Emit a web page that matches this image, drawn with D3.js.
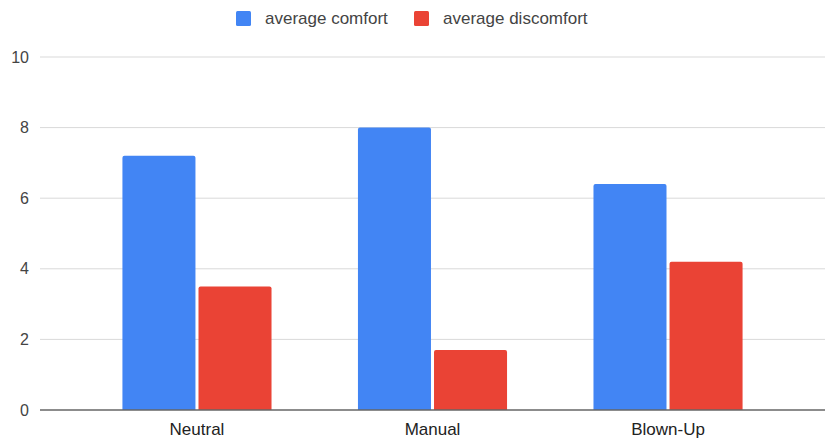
<!DOCTYPE html>
<html>
<head>
<meta charset="utf-8">
<script src="https://cdn.jsdelivr.net/npm/d3@7"></script>
<style>
  html, body { margin: 0; padding: 0; background: #fff; }
  svg { display: block; font-family: "Liberation Sans", Arial, sans-serif; }
</style>
</head>
<body>
<svg id="chart" width="833" height="439"></svg>
<script>
const categories = ["Neutral", "Manual", "Blown-Up"];
const seriesNames = ["average comfort", "average discomfort"];
const comfort = [7.2, 8.0, 6.4];
const discomfort = [3.5, 1.7, 4.2];
const yTicks = [0, 2, 4, 6, 8, 10];
const colors = ["#4285f4", "#ea4335"];

const series = [comfort, discomfort];
const rows = categories.map((c, i) => ({ cat: c, vals: series.map((s, k) => ({ key: seriesNames[k], v: s[i], k })) }));

const svg = d3.select("#chart");
const W = 833, H = 439;
const margin = { left: 40, right: 8, top: 57, bottom: 29 };
const plotR = W - margin.right, plotB = H - margin.bottom;

const x0 = d3.scaleBand().domain(categories).range([margin.left, plotR])
  .paddingInner(0.367).paddingOuter(0.35);
const x1 = d3.scaleBand().domain(seriesNames).range([0, x0.bandwidth()]).paddingInner(0.04);
const y = d3.scaleLinear().domain([0, 10]).range([plotB, margin.top]);

// gridlines
svg.append("g").selectAll("line").data(yTicks.filter(t => t !== 0)).join("line")
  .attr("x1", margin.left).attr("x2", plotR)
  .attr("y1", d => y(d)).attr("y2", d => y(d))
  .attr("stroke", "#d9d9d9").attr("stroke-width", 1);

// y-axis labels
const yAxis = d3.axisLeft(y).tickValues(yTicks).tickSize(0).tickPadding(11).tickFormat(d3.format("d"));
const ya = svg.append("g").attr("transform", `translate(${margin.left},0)`).call(yAxis);
ya.select(".domain").remove();
ya.selectAll("text").attr("font-size", 16).attr("fill", "#444").attr("font-family", "Liberation Sans, Arial, sans-serif");

// bars with slightly rounded tops
function barPath(xp, w, yTop, yBot, r) {
  r = Math.min(r, (yBot - yTop));
  return `M${xp},${yBot}V${yTop + r}Q${xp},${yTop} ${xp + r},${yTop}H${xp + w - r}Q${xp + w},${yTop} ${xp + w},${yTop + r}V${yBot}Z`;
}
svg.append("g").selectAll("g").data(rows).join("g")
  .attr("transform", d => `translate(${x0(d.cat)},0)`)
  .selectAll("path").data(d => d.vals).join("path")
  .attr("d", d => barPath(x1(d.key), x1.bandwidth(), y(d.v), y(0), 2))
  .attr("fill", d => colors[d.k]);

// baseline
svg.append("line").attr("x1", margin.left).attr("x2", plotR)
  .attr("y1", y(0)).attr("y2", y(0)).attr("stroke", "#666").attr("stroke-width", 1.6);

// x-axis labels
const xAxis = d3.axisBottom(x0).tickSize(0).tickPadding(13);
const xa = svg.append("g").attr("transform", `translate(0,${y(0)})`).call(xAxis);
xa.select(".domain").remove();
xa.selectAll("text").attr("font-size", 17).attr("fill", "#222").attr("font-family", "Liberation Sans, Arial, sans-serif");

// legend
const legend = svg.append("g");
const legendX = [236, 414];
seriesNames.forEach((name, k) => {
  const g = legend.append("g").attr("transform", `translate(${legendX[k]},11)`);
  g.append("rect").attr("width", 15).attr("height", 15).attr("rx", 1.5).attr("fill", colors[k]);
  g.append("text").attr("x", 29).attr("y", 13).attr("font-size", 17).attr("fill", "#444").text(name);
});
</script>
</body>
</html>
